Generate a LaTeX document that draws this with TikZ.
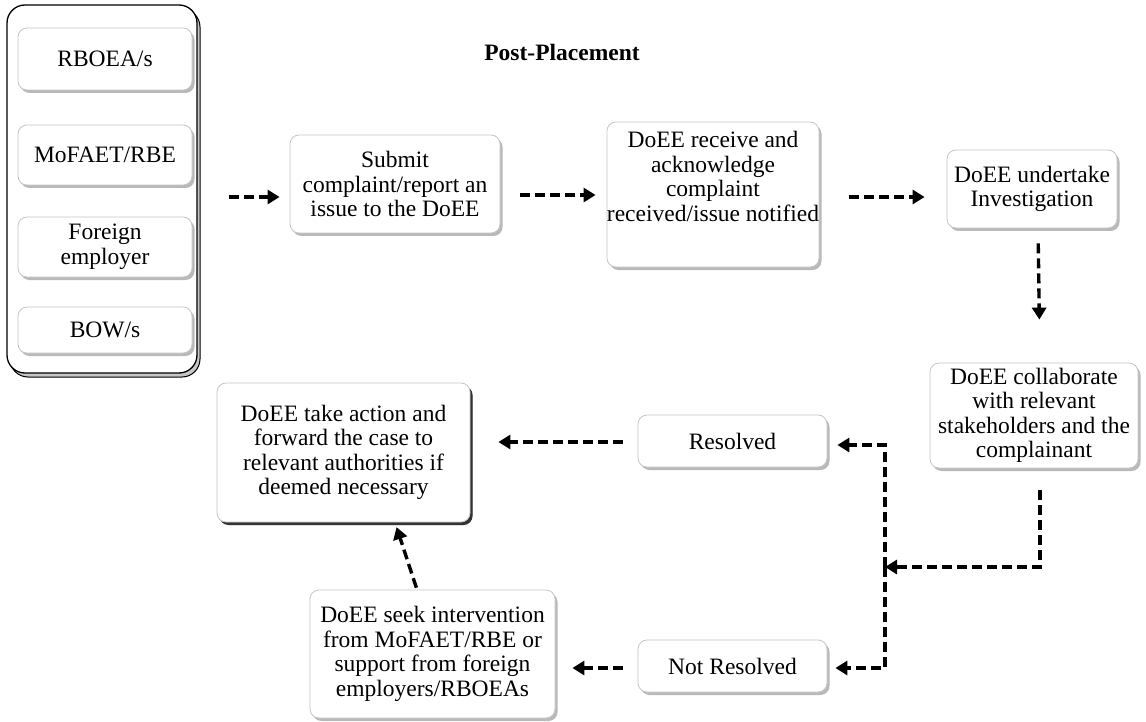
\documentclass[tikz,border=0pt]{standalone}
\usepackage{fontspec}
\setmainfont{Liberation Serif}
\usetikzlibrary{arrows.meta,shadows,calc}
\begin{document}
\begin{tikzpicture}[x=1pt,y=-1pt,
  every node/.style={font=\fontsize{23.5}{24.5}\selectfont},
  box/.style={draw=gray!45, line width=0.8pt, fill=white, rounded corners=9pt,
    align=center, inner sep=0pt,
    drop shadow={shadow xshift=2.5pt, shadow yshift=-3pt, fill=gray!55, opacity=1}},
  darkbox/.style={box, drop shadow={shadow xshift=2.5pt, shadow yshift=-3pt, fill=black!80, opacity=1}},
  arr/.style={line width=3.4pt, dash pattern=on 10pt off 5pt,
    -{Triangle[length=12pt,width=14pt]}}
]
\useasboundingbox (0,0) rectangle (1146,722);
\fill[white] (0,0) rectangle (1146,722);

% container
\node[draw=black, line width=1.3pt, fill=white, rounded corners=18pt, inner sep=0pt,
  minimum width=190pt, minimum height=368pt,
  drop shadow={shadow xshift=3pt, shadow yshift=-4pt, fill=gray!45, draw=black, line width=1pt, opacity=1}]
  (grp) at (102,189) {};
\node[box, minimum width=174pt, minimum height=62pt] (r1) at (105,59) {RBOEA/s};
\node[box, minimum width=174pt, minimum height=60pt] (r2) at (105,155) {MoFAET/RBE};
\node[box, minimum width=174pt, minimum height=60pt] (r3) at (105,247) {Foreign\\employer};
\node[box, minimum width=174pt, minimum height=46pt] (r4) at (105,330) {BOW/s};

% title
\node[font=\fontsize{23.5}{26}\selectfont\bfseries] (title) at (562,52) {Post-Placement};

% process boxes
\node[box, minimum width=210pt, minimum height=98pt] (sub) at (395,184)
  {Submit\\complaint/report an\\issue to the DoEE};
\node[box, minimum width=210pt, minimum height=145pt] (rcv) at (713,194.5)
  {DoEE receive and\\acknowledge\\complaint\\received/issue notified\\[12pt]};
\node[box, minimum width=170pt, minimum height=78pt] (inv) at (1032,189)
  {DoEE undertake\\Investigation};
\node[box, minimum width=208pt, minimum height=105pt] (col) at (1034,415.5)
  {DoEE collaborate\\with relevant\\stakeholders and the\\complainant};
\node[box, minimum width=189pt, minimum height=52pt] (res) at (732.5,441) {Resolved};
\node[box, minimum width=189pt, minimum height=52pt] (nres) at (732.5,666) {Not Resolved};
\node[darkbox, minimum width=253pt, minimum height=139pt] (act) at (343.5,452.5)
  {DoEE take action and\\forward the case to\\relevant authorities if\\deemed necessary};
\node[box, minimum width=245pt, minimum height=128pt] (seek) at (432.5,654)
  {DoEE seek intervention\\from MoFAET/RBE or\\support from foreign\\employers/RBOEAs};

\coordinate (jn) at (885,567);

% connectors
\draw[arr, shorten <=31pt, shorten >=10pt] ([yshift=-8pt]grp.east) -- ([yshift=-13pt]sub.west);
\draw[arr, shorten <=20pt, shorten >=11pt] ([yshift=-11pt]sub.east) -- ([yshift=-0.5pt]rcv.west);
\draw[arr, shorten <=30pt, shorten >=22pt] ([yshift=-2.5pt]rcv.east) -- ([yshift=-8pt]inv.west);
\draw[arr, shorten <=15pt, shorten >=43pt] ([xshift=6pt]inv.south) -- ([xshift=6pt]col.north);
\draw[arr, shorten <=22pt] ([xshift=6pt]col.south) |- (jn);
\draw[arr, shorten >=10pt] (jn) |- ([yshift=-4pt]res.east);
\draw[arr, shorten >=8pt] (jn) |- ([yshift=-2pt]nres.east);
\draw[arr, shorten <=15pt, shorten >=28pt] ([yshift=-1pt]res.west) -- ([yshift=10.5pt]act.east);
\draw[arr, shorten <=15pt, shorten >=17pt] ([yshift=-2pt]nres.west) -- ([yshift=-14pt]seek.east);
\draw[arr, shorten <=2pt, shorten >=5pt] ([xshift=-15.5pt]seek.north) -- ([xshift=51.5pt]act.south);
\end{tikzpicture}
\end{document}
